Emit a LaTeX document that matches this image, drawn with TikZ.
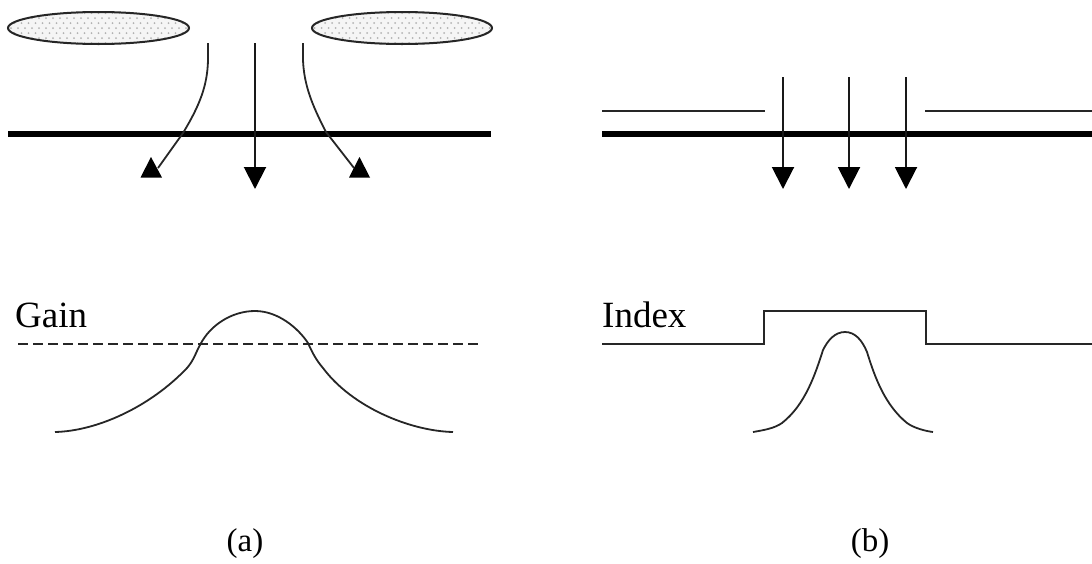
\documentclass[tikz,border=0pt]{standalone}
\usepackage{fontspec}
\setmainfont{Liberation Serif}
\usetikzlibrary{arrows.meta}
\tikzset{
  x=1pt,y=-1pt,
  thin line/.style={line width=2pt,color=black!85},
  curve line/.style={line width=1.8pt,color=black!85},
  thick line/.style={line width=5.5pt,color=black},
  downarrow/.style={line width=2pt,color=black!90,-{Triangle[length=22pt,width=22pt,color=black]}},
  tip/.style={fill=black},
  cloud shape/.style={line width=2pt,draw=black!85},
  label text/.style={font=\fontsize{37}{37}\selectfont,anchor=base west,inner sep=0pt,color=black},
  caption text/.style={font=\fontsize{33}{33}\selectfont,anchor=base,inner sep=0pt},
}
\newcommand{\dotcloud}[3]{%
  \fill[black!4] (#1,#2) ellipse [x radius=#3,y radius=16];
  \begin{scope}
    \clip (#1,#2) ellipse [x radius=#3,y radius=16];
    \foreach \i in {-14,...,14}{
      \foreach \j in {-3,...,3}{
        \fill[black!30] ({#1+\i*7+mod(\j+3,2)*3.5},{#2+\j*5}) circle (1);
      }
    }
  \end{scope}
  \draw[cloud shape] (#1,#2) ellipse [x radius=#3,y radius=16];
}
\begin{document}
\begin{tikzpicture}
\useasboundingbox (0,0) rectangle (1092,563);
% (a) top
\dotcloud{98.5}{28}{90.5}
\dotcloud{402}{28}{90}
\draw[thick line] (8,134) -- (491,134);
\coordinate (cs) at (255,43); \coordinate (ce) at (255,189);
\draw[downarrow] (cs) -- (ce);
\coordinate (ls) at (208,43); \coordinate (le) at (158,168);
\draw[curve line] (ls) -- (208,60) .. controls (207.5,85) and (200,105) .. (183,133) -- (le);
\coordinate (rs) at (303,43); \coordinate (re) at (354,168);
\draw[curve line] (rs) -- (303,60) .. controls (304,85) and (312,105) .. (326,132) -- (re);
\fill[tip] (151,157) -- (162,177.5) -- (140.5,177.5) -- cycle;
\fill[tip] (359.5,157) -- (370,177.5) -- (349,177.5) -- cycle;
% (a) bottom
\node[label text] (gain) at (15,327) {Gain};
\draw[line width=2pt,color=black!85,dash pattern=on 10pt off 5pt] (18,343.5) -- (478,343.5);
\draw[curve line] (55,432) .. controls (97,431) and (150,407) .. (187,368) .. controls (194,360) and (196,352) .. (200,345) .. controls (210,325) and (232,311) .. (255,311) .. controls (278,311) and (298,328) .. (308,343) .. controls (312,352) and (316,360) .. (323,368) .. controls (352,407) and (410,431) .. (453,432);
\node[caption text] (capa) at (245,551) {(a)};
% (b) top
\draw[thin line] (602,110.7) -- (765,110.7);
\draw[thin line] (925,110.7) -- (1092,110.7);
\draw[thick line] (602,134) -- (1092,134);
\foreach \n/\x in {p/783,q/849,r/906}{
  \coordinate (\n s) at (\x,77); \coordinate (\n e) at (\x,189);
  \draw[downarrow] (\n s) -- (\n e);
}
% (b) bottom
\node[label text] (index) at (602,327) {Index};
\draw[line width=2pt,color=black!85] (602,343.5) -- (763.5,343.5) -- (763.5,311) -- (925.7,311) -- (925.7,343.5) -- (1092,343.5);
\draw[curve line] (753,432) .. controls (765,430) and (775,428) .. (782,423) .. controls (805,405) and (815,375) .. (823,350) .. controls (828,340) and (835,332) .. (845,332) .. controls (855,332) and (862,340) .. (867,352) .. controls (875,378) and (885,405) .. (907,423) .. controls (914,428) and (925,431) .. (933,432);
\node[caption text] (capb) at (870,551) {(b)};
\end{tikzpicture}
\end{document}
